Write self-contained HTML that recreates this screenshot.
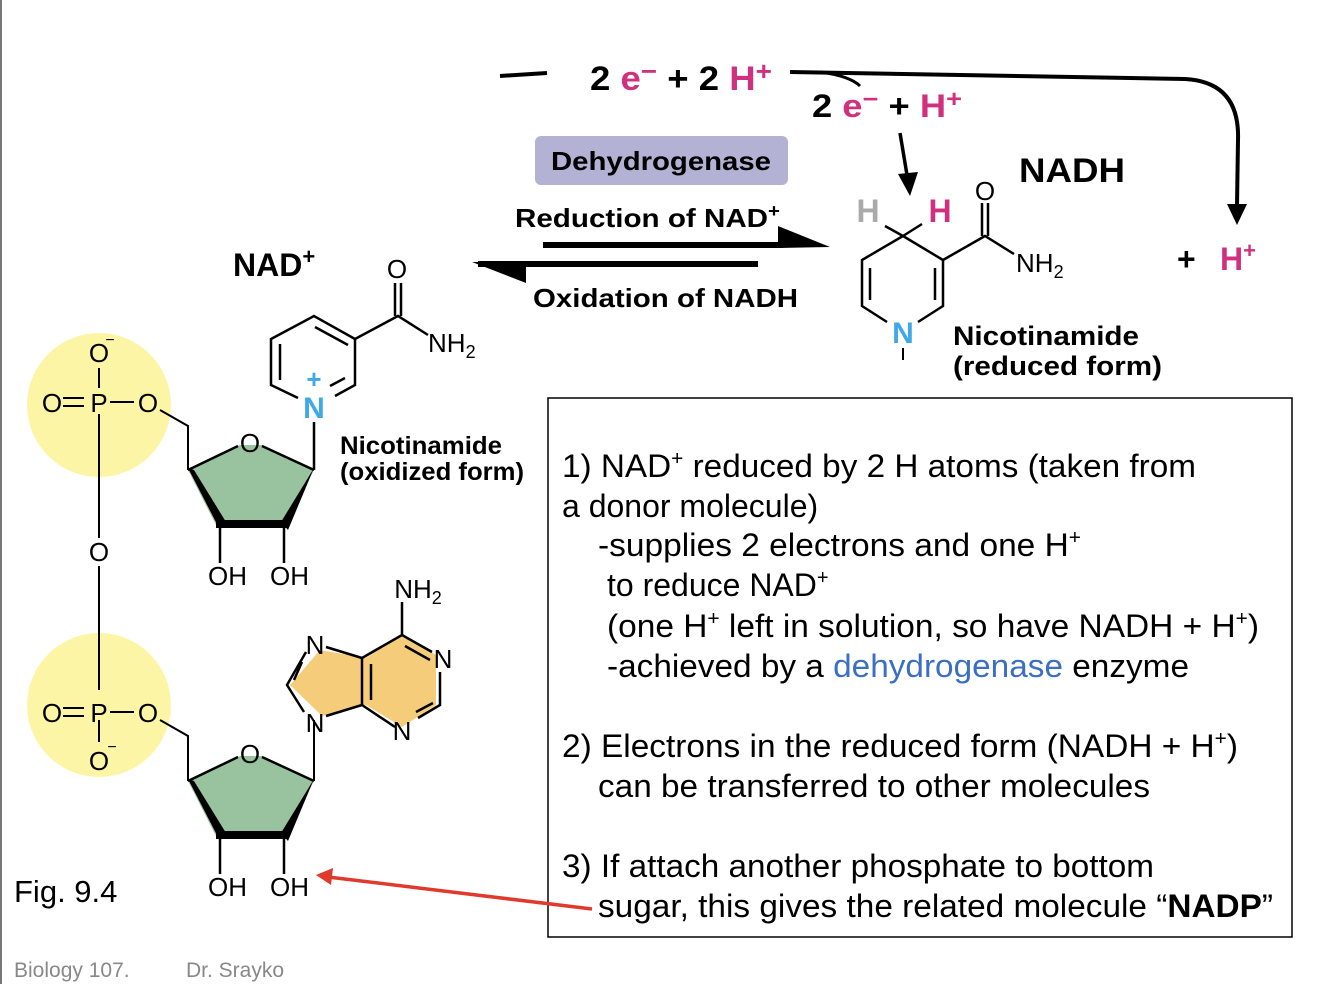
<!DOCTYPE html>
<html><head><meta charset="utf-8"><style>
html,body{margin:0;padding:0;background:#fff;}
svg{display:block;font-family:"Liberation Sans",sans-serif;}
.b{font-weight:bold}
</style></head><body>
<svg width="1334" height="984" viewBox="0 0 1334 984" xmlns="http://www.w3.org/2000/svg">
<line x1="1" y1="0" x2="1" y2="984" stroke="#777" stroke-width="2"/>
<path d="M500 76 L547 73" stroke="#000" stroke-width="4" fill="none"/>
<text x="590" y="90" font-size="34" class="b" textLength="182" lengthAdjust="spacingAndGlyphs">2 <tspan fill="#d0307e">e</tspan><tspan fill="#d0307e" font-size="26" dy="-10">−</tspan><tspan dy="10"> + 2 </tspan><tspan fill="#d0307e">H</tspan><tspan fill="#d0307e" font-size="26" dy="-10">+</tspan></text>
<path d="M790 72 L1185 79 Q1240 82 1238 140 L1237 205" stroke="#000" stroke-width="4" fill="none"/>
<polygon points="1227,204 1247,204 1237,225" fill="#000"/>
<path d="M820 72 Q850 76 860 86" stroke="#000" stroke-width="3" fill="none"/>
<text x="812" y="117" font-size="32" class="b" textLength="150" lengthAdjust="spacingAndGlyphs">2 <tspan fill="#d0307e">e</tspan><tspan fill="#d0307e" font-size="24" dy="-10">−</tspan><tspan dy="10"> + </tspan><tspan fill="#d0307e">H</tspan><tspan fill="#d0307e" font-size="24" dy="-10">+</tspan></text>
<path d="M900 133 L907 175" stroke="#000" stroke-width="3.5" fill="none"/>
<polygon points="898,174 918,172 910,196" fill="#000"/>
<rect x="535" y="136" width="253" height="49" rx="6" fill="#b3b1d4"/>
<text x="551" y="170" font-size="26" class="b" textLength="220" lengthAdjust="spacingAndGlyphs">Dehydrogenase</text>
<text x="515" y="227" font-size="26" class="b" textLength="265" lengthAdjust="spacingAndGlyphs">Reduction of NAD<tspan font-size="18" dy="-10">+</tspan></text>
<rect x="543" y="242" width="240" height="6" fill="#000"/>
<polygon points="778,226 830,247 778,248" fill="#000"/>
<rect x="478" y="261" width="280" height="6" fill="#000"/>
<polygon points="472,262 526,262 526,283" fill="#000"/>
<text x="533" y="307" font-size="26" class="b" textLength="265" lengthAdjust="spacingAndGlyphs">Oxidation of NADH</text>
<text x="233" y="276" font-size="32" class="b">NAD<tspan font-size="22" dy="-12">+</tspan></text>
<text x="1019" y="182" font-size="34" class="b" textLength="106" lengthAdjust="spacingAndGlyphs">NADH</text>
<text x="1177" y="270" font-size="32" class="b">+<tspan x="1220" fill="#d0307e">H</tspan><tspan fill="#d0307e" font-size="22" dy="-12">+</tspan></text>
<g stroke="#000" stroke-width="2.5" fill="none">
<path d="M298 398 L271 385 L271 339 L314 316 L355 339 L355 385 L335 396"/>
<path d="M280 380 L280 344 M315 327 L348 345 M345 378 L330 386"/>
<path d="M355 339 L398 316 L428 335 M395 316 L395 283 M401 316 L401 283"/>
<path d="M314 422 L314 470"/>
</g>
<text x="397" y="278" font-size="26" text-anchor="middle">O</text>
<text x="428" y="352" font-size="26">NH<tspan font-size="18" dy="6">2</tspan></text>
<text x="314" y="388" font-size="26" fill="#3fa9e8" class="b" text-anchor="middle">+</text>
<text x="314" y="418" font-size="30" fill="#3fa9e8" class="b" text-anchor="middle">N</text>
<text x="340" y="454" font-size="25" class="b" textLength="162" lengthAdjust="spacingAndGlyphs">Nicotinamide</text>
<text x="340" y="480" font-size="25" class="b" textLength="184" lengthAdjust="spacingAndGlyphs">(oxidized form)</text>
<circle cx="99" cy="405" r="72" fill="#fdf5a6"/>
<circle cx="99" cy="705" r="72" fill="#fdf5a6"/>
<g stroke="#000" stroke-width="2" fill="none">
<path d="M99 368 L99 388 M99 414 L99 538 M99 566 L99 690 M99 720 L99 742"/>
<path d="M63 398 L84 398 M63 406 L84 406 M110 402 L134 402 M63 708 L84 708 M63 716 L84 716 M110 712 L134 712"/>
<path d="M160 410 L188 426 L188 470 M160 720 L188 736 L188 781"/>
<path d="M314 720 L314 781"/>
</g>
<g font-size="26" text-anchor="middle">
<text x="99" y="362">O</text><text x="110" y="345" font-size="16">−</text>
<text x="99" y="412">P</text><text x="52" y="412">O</text><text x="148" y="412">O</text>
<text x="99" y="561">O</text>
<text x="99" y="722">P</text><text x="52" y="722">O</text><text x="148" y="722">O</text>
<text x="99" y="770">O</text><text x="112" y="752" font-size="16">−</text>
</g>
<g id="rib">
<polygon points="188,470 240,445 262,445 314,470 284,527 217,527" fill="#98c39e"/>
<path d="M188 470 L238 446 M262 446 L314 470" stroke="#000" stroke-width="2.5"/>
<polygon points="188,468 220,530 226,522 194,470" fill="#000"/>
<polygon points="314,468 281,522 288,530" fill="#000"/>
<rect x="216" y="520" width="71" height="8" fill="#000"/>
<path d="M220 528 L220 563 M284 528 L284 563" stroke="#000" stroke-width="2.5"/>
<text x="250" y="452" font-size="26" text-anchor="middle">O</text>
<text x="208" y="585" font-size="26">OH</text><text x="270" y="585" font-size="26">OH</text>
</g>
<use href="#rib" transform="translate(0,311)"/>
<polygon points="402,635 436,655 436,705 402,727 366,705 322,716 290,685 320,650 366,658" fill="#f5cd7a"/>
<g stroke="#000" stroke-width="2.5" fill="none">
<path d="M402 602 L402 635 L432 652 M440 672 L440 705 L418 718 M395 727 L362 705 L362 658 L402 635"/>
<path d="M371 700 L371 664 M405 646 L430 660 M433 703 L416 712"/>
<path d="M362 658 L326 647 M362 705 L326 716 M306 652 L287 685 L304 712 M302 662 L294 680"/>
</g>
<g font-size="26" text-anchor="middle">
<text x="418" y="598">NH<tspan font-size="18" dy="6">2</tspan></text>
<text x="443" y="668">N</text><text x="402" y="740">N</text>
<text x="315" y="654">N</text><text x="315" y="732">N</text>
</g>
<g stroke="#000" stroke-width="2.5" fill="none">
<path d="M887 322 L862 306 L862 260 L903 236 L943 260 L943 306 L918 322"/>
<path d="M870 300 L870 268 M935 300 L935 268"/>
<path d="M903 236 L885 226 M903 236 L922 224"/>
<path d="M943 260 L985 236 L1014 254 M982 236 L982 203 M988 236 L988 203"/>
<path d="M903 348 L903 360" stroke-width="2"/>
</g>
<text x="868" y="222" font-size="32" fill="#aaa" class="b" text-anchor="middle">H</text>
<text x="940" y="222" font-size="32" fill="#d0307e" class="b" text-anchor="middle">H</text>
<text x="985" y="200" font-size="26" text-anchor="middle">O</text>
<text x="1016" y="272" font-size="26">NH<tspan font-size="18" dy="6">2</tspan></text>
<text x="903" y="343" font-size="30" fill="#3fa9e8" class="b" text-anchor="middle">N</text>
<text x="953" y="345" font-size="27" class="b" textLength="186" lengthAdjust="spacingAndGlyphs">Nicotinamide</text>
<text x="953" y="375" font-size="27" class="b" textLength="209" lengthAdjust="spacingAndGlyphs">(reduced form)</text>
<rect x="548" y="398" width="744" height="539" fill="none" stroke="#000" stroke-width="1.5"/>
<g font-size="32">
<text x="562" y="477" textLength="634" lengthAdjust="spacingAndGlyphs">1) NAD<tspan font-size="20" dy="-12">+</tspan><tspan dy="12"> reduced by 2 H atoms (taken from</tspan></text>
<text x="562" y="517">a donor molecule)</text>
<text x="598" y="556" textLength="483" lengthAdjust="spacingAndGlyphs">-supplies 2 electrons and one H<tspan font-size="20" dy="-12">+</tspan></text>
<text x="607" y="596">to reduce NAD<tspan font-size="20" dy="-12">+</tspan></text>
<text x="607" y="637" textLength="652" lengthAdjust="spacingAndGlyphs">(one H<tspan font-size="20" dy="-12">+</tspan><tspan dy="12"> left in solution, so have NADH + H</tspan><tspan font-size="20" dy="-12">+</tspan><tspan dy="12">)</tspan></text>
<text x="607" y="677" textLength="582" lengthAdjust="spacingAndGlyphs">-achieved by a <tspan fill="#3b6fc4">dehydrogenase</tspan> enzyme</text>
<text x="562" y="757" textLength="676" lengthAdjust="spacingAndGlyphs">2) Electrons in the reduced form (NADH + H<tspan font-size="20" dy="-12">+</tspan><tspan dy="12">)</tspan></text>
<text x="598" y="797" textLength="552" lengthAdjust="spacingAndGlyphs">can be transferred to other molecules</text>
<text x="562" y="877" textLength="592" lengthAdjust="spacingAndGlyphs">3) If attach another phosphate to bottom</text>
<text x="598" y="917" textLength="675" lengthAdjust="spacingAndGlyphs">sugar, this gives the related molecule “<tspan class="b">NADP</tspan>”</text>
</g>
<line x1="592" y1="909" x2="328" y2="877" stroke="#e03a2c" stroke-width="3.5"/>
<polygon points="316,875 333,868 331,885" fill="#e03a2c"/>
<text x="14" y="902" font-size="31">Fig. 9.4</text>
<text x="14" y="977" font-size="21" fill="#888">Biology 107.</text>
<text x="186" y="977" font-size="21" fill="#888">Dr. Srayko</text>
</svg>
</body></html>
